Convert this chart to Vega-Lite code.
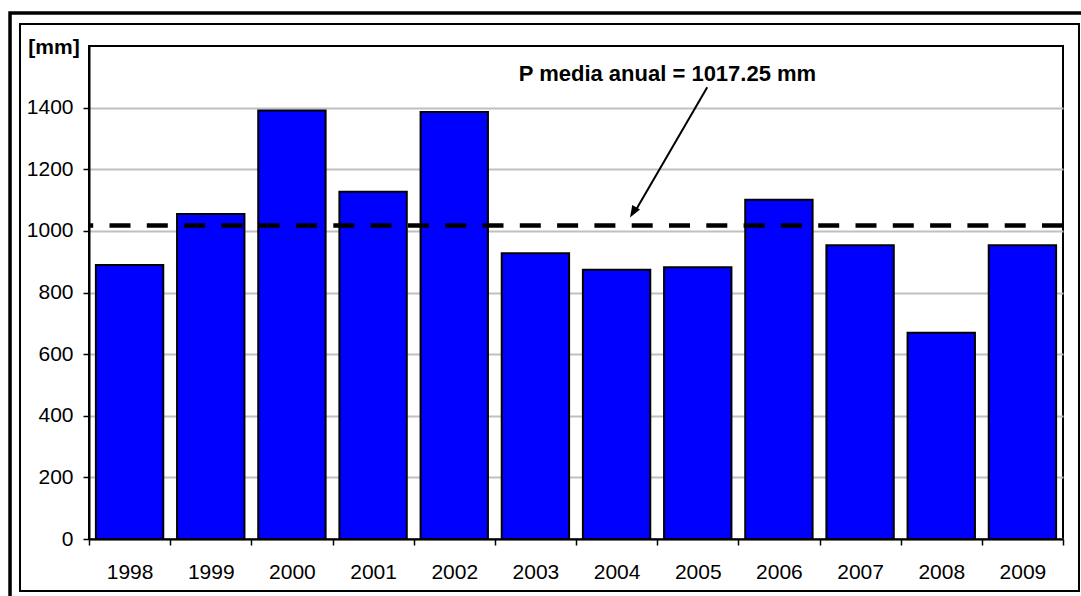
{
  "$schema": "https://vega.github.io/schema/vega-lite/v6.json",
  "width": 974,
  "height": 493,
  "autosize": {"type": "none"},
  "padding": {"left": 89, "top": 46, "right": 18, "bottom": 57},
  "background": "white",
  "config": {
    "font": "Liberation Sans",
    "view": {"stroke": "black", "strokeWidth": 2},
    "axis": {
      "labelFont": "Liberation Sans",
      "labelColor": "black",
      "labelFontSize": 21,
      "domainColor": "black",
      "domainWidth": 2,
      "tickColor": "black",
      "tickWidth": 1.5,
      "tickSize": 6
    }
  },
  "datasets": {
    "precip": [
      {"anio": "1998", "P": 889},
      {"anio": "1999", "P": 1055},
      {"anio": "2000", "P": 1391},
      {"anio": "2001", "P": 1127},
      {"anio": "2002", "P": 1386},
      {"anio": "2003", "P": 927},
      {"anio": "2004", "P": 874},
      {"anio": "2005", "P": 882},
      {"anio": "2006", "P": 1101},
      {"anio": "2007", "P": 953},
      {"anio": "2008", "P": 669},
      {"anio": "2009", "P": 953}
    ],
    "media": [{"P_media": 1017.25}]
  },
  "resolve": {"scale": {"x": "independent"}, "axis": {"y": "independent"}},
  "layer": [
    {
      "data": {"name": "precip"},
      "mark": {"type": "bar", "color": "#0000ff", "stroke": "black", "strokeWidth": 2, "width": {"band": 0.83}},
      "encoding": {
        "x": {
          "field": "anio",
          "type": "nominal",
          "sort": null,
          "scale": {"paddingInner": 0, "paddingOuter": 0},
          "axis": {
            "title": null,
            "labelAngle": 0,
            "tickBand": "extent",
            "labelPadding": 16,
            "grid": false
          }
        },
        "y": {
          "field": "P",
          "type": "quantitative",
          "scale": {"domain": [0, 1600], "nice": false, "zero": true},
          "axis": {
            "values": [0, 200, 400, 600, 800, 1000, 1200, 1400],
            "format": "d",
            "title": "[mm]",
            "titleAngle": 0,
            "titleX": -35.5,
            "titleY": 1,
            "titleAlign": "center",
            "titleBaseline": "middle",
            "titleFont": "Liberation Sans",
            "titleFontWeight": "bold",
            "titleFontSize": 21,
            "titleColor": "black",
            "labelPadding": 10,
            "grid": true,
            "gridColor": "#c0c0c0",
            "gridWidth": 2
          }
        }
      }
    },
    {
      "description": "outer frames around the figure",
      "data": {"values": [{}]},
      "mark": {"type": "rect", "fillOpacity": 0, "stroke": "black", "strokeWidth": 3.5},
      "encoding": {
        "x": {"datum": -0.973, "type": "quantitative", "scale": {"domain": [0, 12], "nice": false, "zero": false}, "axis": null},
        "x2": {"datum": 13.5},
        "y": {"datum": 1707, "type": "quantitative", "axis": null},
        "y2": {"datum": -400}
      }
    },
    {
      "data": {"values": [{}]},
      "mark": {"type": "rect", "fillOpacity": 0, "stroke": "black", "strokeWidth": 2},
      "encoding": {
        "x": {"datum": -0.85, "type": "quantitative", "scale": {"domain": [0, 12], "nice": false, "zero": false}, "axis": null},
        "x2": {"datum": 12.197},
        "y": {"datum": 1671.4, "type": "quantitative", "axis": null},
        "y2": {"datum": -168.8}
      }
    },
    {
      "data": {"name": "media"},
      "mark": {"type": "rule", "color": "black", "strokeWidth": 4.5, "strokeDash": [21, 16.3]},
      "encoding": {
        "y": {"field": "P_media", "type": "quantitative", "axis": null}
      }
    },
    {
      "description": "arrow pointing from the label to the mean line",
      "data": {"values": [{}]},
      "mark": {"type": "rule", "color": "black", "strokeWidth": 2},
      "encoding": {
        "x": {"datum": 7.617, "type": "quantitative", "scale": {"domain": [0, 12], "nice": false, "zero": false}, "axis": null},
        "x2": {"datum": 6.72},
        "y": {"datum": 1466, "type": "quantitative", "axis": null},
        "y2": {"datum": 1060}
      }
    },
    {
      "data": {"values": [{}]},
      "mark": {
        "type": "point",
        "shape": "M0,0L-0.75,2L0.75,2Z",
        "size": 144,
        "angle": 210.9,
        "filled": true,
        "color": "black",
        "opacity": 1,
        "strokeWidth": 0
      },
      "encoding": {
        "x": {"datum": 6.665, "type": "quantitative", "scale": {"domain": [0, 12], "nice": false, "zero": false}, "axis": null},
        "y": {"datum": 1043.4, "type": "quantitative", "axis": null}
      }
    },
    {
      "data": {"values": [{}]},
      "mark": {
        "type": "text",
        "text": "P media anual = 1017.25 mm",
        "font": "Liberation Sans",
        "fontSize": 22,
        "fontWeight": "bold",
        "color": "black",
        "align": "center",
        "baseline": "middle"
      },
      "encoding": {
        "x": {"datum": 7.127, "type": "quantitative", "scale": {"domain": [0, 12], "nice": false, "zero": false}, "axis": null},
        "y": {"datum": 1510, "type": "quantitative", "axis": null}
      }
    }
  ]
}
